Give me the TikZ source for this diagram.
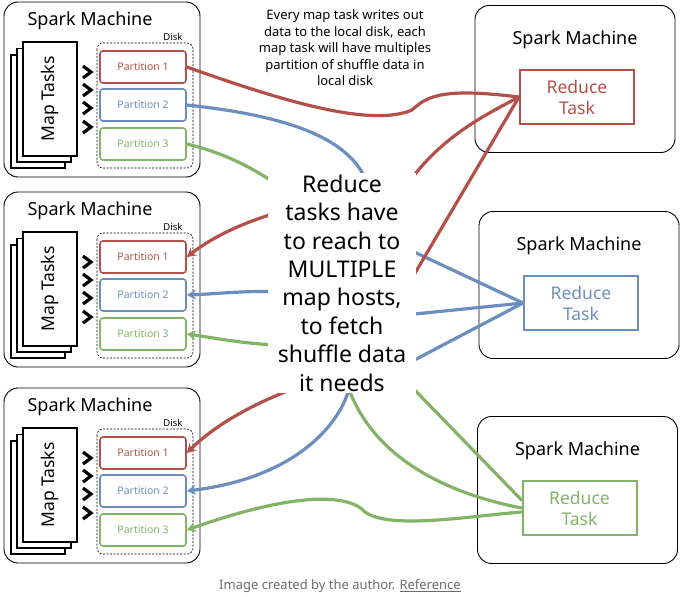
\documentclass[tikz,border=0pt]{standalone}
\usepackage{fontspec}
\setmainfont{Noto Sans}
\usepackage{xcolor}
\usetikzlibrary{arrows.meta}
\definecolor{sparkred}{RGB}{180,80,74}
\definecolor{sparkblue}{RGB}{108,142,191}
\definecolor{sparkgreen}{RGB}{130,179,102}
\definecolor{footgray}{RGB}{107,107,107}

\begin{document}
\begin{tikzpicture}[x=1pt,y=-1pt,
    machine/.style={draw, rounded corners=14pt, line width=0.9pt},
    sheet/.style={draw, fill=white, line width=1.6pt},
    chev/.style={line width=3.2pt, line join=miter},
    part/.style={draw=#1, text=#1, rounded corners=3pt, line width=1.6pt,
        minimum width=86pt, minimum height=32pt, font=\fontsize{10.5}{12}\selectfont},
    task/.style={draw=#1, text=#1, line width=2pt, minimum width=114pt,
        minimum height=54pt, align=center, font=\fontsize{17.5}{21}\selectfont},
    title/.style={font=\fontsize{18}{21}\selectfont},
    wire/.style={draw=#1, line width=3.2pt, line cap=round},
    hit/.style={wire=#1, -{Stealth[length=9pt,width=10pt]}}]

    \useasboundingbox (0,0) rectangle (680,597);

    % map hosts
    \foreach \m/\y in {1/0,2/190,3/386} {
        \node[machine, minimum width=196pt, minimum height=175pt] (m\m) at (102,\y+89.5) {};
        \node[title] at (90,\y+21) {Spark Machine};
        \foreach \d in {0,1,2}
            \draw[sheet] (11+6*\d,\y+55-6.5*\d) rectangle (65+6*\d,\y+168-6*\d);
        \node[rotate=90, font=\fontsize{17.5}{20}\selectfont] (m\m-maps) at (50,\y+99) {Map Tasks};
        \foreach \k in {72,90,108,127}
            \draw[chev] (83,\y+\k-6) -- (91,\y+\k) -- (83,\y+\k+6);
        \draw[dash pattern=on 2pt off 1.5pt, line width=0.6pt, rounded corners=6pt]
            (97,\y+43) rectangle (193,\y+168);
        \node[font=\fontsize{9.5}{10}\selectfont] at (173,\y+37) {Disk};
        \node[part=sparkred] (m\m-p1) at (143,\y+67) {Partition 1};
        \node[part=sparkblue] (m\m-p2) at (143,\y+105) {Partition 2};
        \node[part=sparkgreen] (m\m-p3) at (143,\y+144) {Partition 3};
    }

    % reduce hosts
    \foreach \r/\x/\y/\col in {1/575/79/sparkred,2/579/285/sparkblue,3/577.5/490/sparkgreen} {
        \node[machine, minimum width=200pt, minimum height=147pt] (r\r) at (\x,\y) {};
        \node[title] at (\x,\y-39) {Spark Machine};
        \node[task=\col] (r\r-task) at (\x+2,\y+18) {Reduce\\Task};
    }

    % shuffle wires
    \draw[wire=sparkred] (m1-p1.east) .. controls (280,100) and (370,128) .. (412,110)
        .. controls (428,95) and (445,88) .. (r1-task.west);
    \draw[wire=sparkblue] (m1-p2.east) .. controls (280,115) and (345,135) .. (365,178)
        -- (410,250) -- (r2-task.west);
    \draw[wire=sparkgreen] (m1-p3.east) .. controls (220,152) and (250,165) .. (285,190)
        -- (405,380) -- ([yshift=8pt]r3-task.west);

    \draw[hit=sparkred] (r1-task.west) .. controls (485,115) and (445,135) .. (412,178)
        -- (280,212) .. controls (250,220) and (215,235) .. (m2-p1.east);
    \draw[hit=sparkblue] (r2-task.west) -- (405,315) -- (285,292)
        .. controls (250,290) and (215,294) .. (m2-p2.east);
    \draw[hit=sparkgreen] (r3-task.west) .. controls (440,492) and (375,455) .. (350,392)
        -- (285,345) .. controls (250,345) and (215,338) .. (m2-p3.east);

    \draw[hit=sparkred] (r1-task.west) -- (405,290) -- (285,392)
        .. controls (245,408) and (212,428) .. (m3-p1.east);
    \draw[hit=sparkblue] (r2-task.west) -- (405,365) -- (348,392)
        .. controls (338,425) and (295,478) .. (m3-p2.east);
    \draw[hit=sparkgreen] ([yshift=-4pt]r3-task.west) .. controls (470,516) and (390,530) .. (365,512)
        .. controls (350,495) and (300,490) .. (m3-p3.east);

    % texts
    \node[align=center, font=\fontsize{13}{16.5}\selectfont] (note) at (345,48)
        {Every map task writes out\\data to the local disk, each\\map task will have multiples\\partition of shuffle data in\\local disk};
    \node[fill=white, align=center, inner sep=2pt, minimum width=148pt,
        font=\fontsize{23}{28.4}\selectfont] (reach) at (342,283)
        {Reduce\\tasks have\\to reach to\\MULTIPLE\\map hosts,\\to fetch\\shuffle data\\it needs};
    \node[text=footgray, font=\fontsize{13}{15}\selectfont] (credit) at (340,586)
        {Image created by the author. \underline{Reference}};
\end{tikzpicture}
\end{document}
